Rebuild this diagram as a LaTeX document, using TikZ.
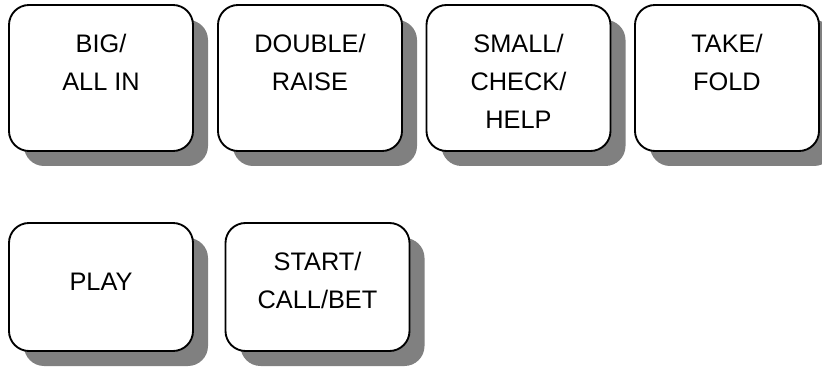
\documentclass[tikz,border=0pt]{standalone}
\usepackage{fontspec}
\setmainfont{Liberation Sans}
\usetikzlibrary{shadows}
\definecolor{shadowgray}{RGB}{128,128,128}
\begin{document}
\begin{tikzpicture}[x=0.75pt,y=-0.75pt,
  key/.style={draw=black, line width=1.4pt, fill=white, rounded corners=15pt,
    minimum width=138pt, inner sep=0pt,
    drop shadow={shadow xshift=11.25pt, shadow yshift=-11.25pt, fill=shadowgray, opacity=1}},
  tallkey/.style={key, minimum height=109.5pt},
  shortkey/.style={key, minimum height=96pt},
  keytext/.style={font=\fontsize{19}{28.5}\selectfont, align=center, inner sep=0pt, anchor=north}]
\useasboundingbox (0,0) rectangle (822,367);

% top row of keys
\node[tallkey] (big) at (101,78) {};
\node[tallkey] (double) at (310,78) {};
\node[tallkey] (small) at (518.5,78) {};
\node[tallkey] (take) at (727,78) {};

\node[keytext] (bigtxt) at ([yshift=-22pt]big.north) {BIG/\\ALL IN};
\node[keytext] (doubletxt) at ([yshift=-22pt]double.north) {DOUBLE/\\RAISE};
\node[keytext] (smalltxt) at ([yshift=-22pt]small.north) {SMALL/\\CHECK/\\HELP};
\node[keytext] (taketxt) at ([yshift=-22pt]take.north) {TAKE/\\FOLD};

% bottom row of keys
\node[shortkey] (play) at (101,287) {};
\node[shortkey] (start) at (317.5,287) {};

\node[keytext, anchor=center] (playtxt) at ([yshift=4pt]play.center) {PLAY};
\node[keytext] (starttxt) at ([yshift=-22pt]start.north) {START/\\CALL/BET};
\end{tikzpicture}
\end{document}
